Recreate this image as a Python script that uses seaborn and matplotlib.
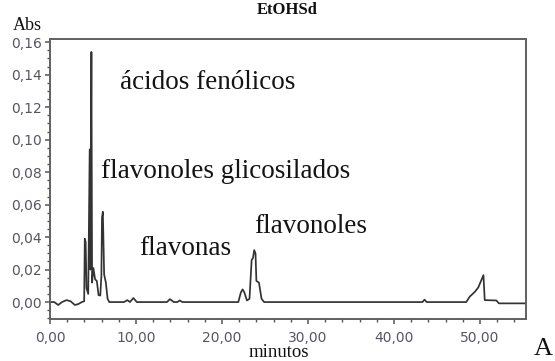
import numpy as np
import matplotlib.pyplot as plt
import matplotlib.ticker as mticker
import seaborn as sns
import pandas as pd

# chromatogram (minutes, absorbance)
tiempo = [0.0, 0.5, 0.96, 1.4, 1.93, 2.4, 2.9, 3.3, 3.7, 3.98,
          4.05, 4.15, 4.25, 4.45, 4.62, 4.7, 4.82, 4.9, 5.05, 5.25,
          5.45, 5.65, 5.85, 5.98, 6.05, 6.15, 6.3, 6.5, 6.7, 6.9,
          8.6, 9.0, 9.3, 9.7, 10.1, 13.6, 13.95, 14.4, 14.8, 15.1,
          15.4, 21.9, 22.2, 22.4, 22.6, 22.9, 23.2, 23.45, 23.6, 23.75,
          23.9, 24.0, 24.3, 24.6, 24.9, 43.3, 43.55, 43.8, 48.4, 48.8,
          49.4, 49.8, 50.4, 50.55, 51.9, 52.2, 55.3]
absorb = [0.0, 0.0, -0.0018, 0.0, 0.0012, 0.0005, -0.0018, -0.0012, 0.0, 0.0005,
          0.039, 0.037, 0.0086, 0.005, 0.094, 0.02, 0.154, 0.012, 0.021, 0.014,
          0.013, 0.0043, 0.004, 0.016, 0.052, 0.0556, 0.017, 0.012, 0.002, 0.0,
          0.0, 0.0012, 0.0, 0.0025, 0.0, 0.0, 0.0018, 0.0, 0.0, 0.001,
          0.0, 0.0, 0.006, 0.0078, 0.006, 0.001, 0.002, 0.026, 0.027, 0.032,
          0.030, 0.013, 0.012, 0.002, 0.0, 0.0, 0.0015, 0.0, 0.0, 0.0033,
          0.0063, 0.009, 0.0166, 0.0012, 0.001, -0.0008, -0.0008]

etiquetas = ['ácidos fenólicos', 'flavonoles glicosilados', 'flavonas', 'flavonoles']
etiq_x = [8.1, 5.97, 10.33, 23.7]
etiq_y = [0.1315, 0.0765, 0.0289, 0.0423]

df = pd.DataFrame({'minutos': tiempo, 'Abs': absorb})

sns.set_style('ticks')
plt.rcParams['font.family'] = ['DejaVu Sans']

fig = plt.figure(figsize=(5.55, 3.61), dpi=100)
ax = fig.add_axes([0.090, 0.116, 0.857, 0.776])

sns.lineplot(data=df, x='minutos', y='Abs', ax=ax, color='#333333',
             linewidth=1.25, sort=False, estimator=None)

ax.set_xlim(0, 55.3)
ax.set_ylim(-0.0105, 0.162)

ax.xaxis.set_major_locator(mticker.MultipleLocator(10))
ax.xaxis.set_minor_locator(mticker.MultipleLocator(2))
ax.yaxis.set_major_locator(mticker.MultipleLocator(0.02))
ax.yaxis.set_minor_locator(mticker.MultipleLocator(0.005))
ax.xaxis.set_major_formatter(mticker.FuncFormatter(lambda v, p: f'{v:.2f}'.replace('.', ',')))
ax.yaxis.set_major_formatter(mticker.FuncFormatter(lambda v, p: f'{v:.2f}'.replace('.', ',')))

ax.tick_params(which='major', direction='out', length=3.6, width=1.1, color='#555555',
               labelsize=10, labelcolor='#5a5462')
ax.tick_params(which='minor', direction='out', length=2.2, width=1.0, color='#555555')
ax.tick_params(axis='x', which='major', pad=5)
ax.tick_params(axis='y', which='major', pad=2)

for s in ax.spines.values():
    s.set_color('#606060')
    s.set_linewidth(1.4)
    s.set_visible(True)

ax.set_xlabel('')
ax.set_ylabel('')

serif = ['Liberation Serif', 'DejaVu Serif']
for txt, x, y in zip(etiquetas, etiq_x, etiq_y):
    ax.text(x, y, txt, family=serif, fontsize=19.5, color='#141414',
            ha='left', va='baseline')

fig.text(0.517, 0.972, 'EtOHSd', family=serif, fontsize=12, fontweight='bold',
         ha='center', va='center', color='#111111')
fig.text(0.023, 0.93, 'Abs', family=serif, fontsize=13, ha='left', va='center',
         color='#111111')
fig.text(0.503, 0.012, 'minutos', family=serif, fontsize=13.5, ha='center',
         va='baseline', color='#111111')
fig.text(0.962, 0.003, 'A', family=serif, fontsize=19, ha='left', va='bottom',
         color='#111111')

fig.savefig('out.png', dpi=100)
